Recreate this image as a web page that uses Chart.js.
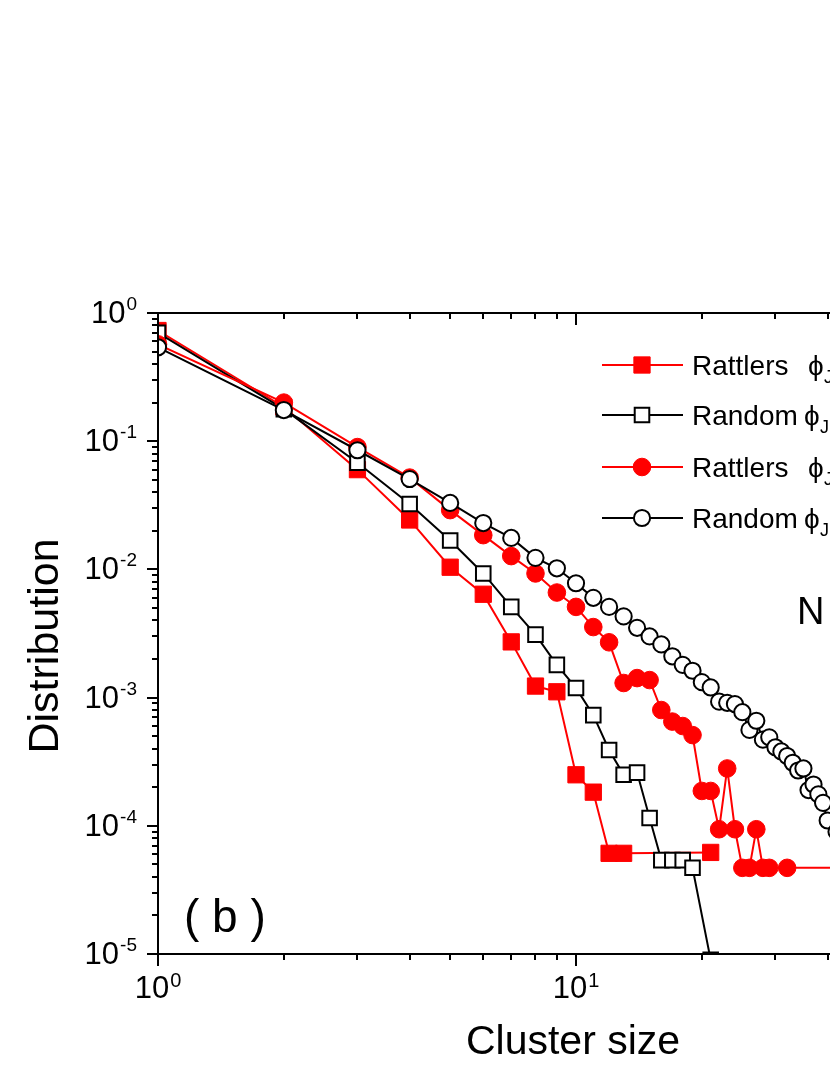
<!DOCTYPE html>
<html><head><meta charset="utf-8">
<style>
html,body{margin:0;padding:0;overflow:hidden;background:#fff;width:830px;height:1075px}
#wrap{position:absolute;left:0;top:0;width:1200px;height:1075px}
</style>
<script src="https://cdn.jsdelivr.net/npm/chart.js@4.4.0/dist/chart.umd.min.js"></script>
</head><body><div id="wrap"><canvas id="c" width="1200" height="1075" style="width:1200px;height:1075px"></canvas></div>
<script>
// ---- data ----
const xRattlersSq = [1,2,3,4,5,6,7,8,9,10,11,12,13,21];
const yRattlersSq = [0.73,0.185,0.060,0.0243,0.0104,0.0064,0.00272,0.00123,0.00111,0.00025,0.000183,6.1e-5,6.1e-5,6.2e-5];

const xRandomSq = [1,2,3,4,5,6,7,8,9,10,11,12,13,14,15,16,17,18,19,21];
const yRandomSq = [0.70,0.178,0.068,0.0324,0.0168,0.0093,0.0051,0.0031,0.0018,0.00119,0.00073,0.00039,0.00025,0.00026,0.000115,5.4e-5,5.4e-5,5.4e-5,4.7e-5,9e-6];

const xRattlersCi = [1,2,3,4,5,6,7,8,9,10,11,12,13,14,15,16,17,18,19,20,21,22,23,24,25,26,27,28,29,32,60];
const yRattlersCi = [0.57,0.20,0.090,0.052,0.029,0.0185,0.0127,0.0093,0.0066,0.0051,0.00355,0.0027,0.0013,0.00142,0.00137,0.0008,0.00065,0.0006,0.00051,0.000187,0.000187,9.4e-5,0.00028,9.4e-5,4.7e-5,4.7e-5,9.4e-5,4.7e-5,4.7e-5,4.7e-5,4.7e-5];

const xRandomCi = [1,2,3,4,5,6,7,8,9,10,11,12,13,14,15,16,17,18,19,20,21,22,23,24,25,26,27,28,29,30,31,32,33,34,35,36,37,38,39,40,42];
const yRandomCi = [0.54,0.175,0.085,0.0507,0.033,0.023,0.0176,0.0123,0.0102,0.0078,0.0060,0.0051,0.0043,0.0035,0.0030,0.0026,0.0021,0.0018,0.00162,0.00132,0.0012,0.00093,0.00091,0.00089,0.00077,0.00056,0.00066,0.00047,0.00049,0.00041,0.00038,0.00035,0.00031,0.00027,0.00028,0.00019,0.00021,0.000176,0.000151,0.00011,9e-5];

const xTickExps = [0,1,2];
const yTickExps = [0,-1,-2,-3,-4,-5];
const legendLabels = ['Rattlers', 'Random', 'Rattlers', 'Random'];
const xTitle = 'Cluster size';
const yTitle = 'Distribution';

const RED = '#ff0000', BLACK = '#000000';
const FONT = "'Liberation Sans', Arial, sans-serif";

const pts = (xs, ys) => xs.map((x, i) => ({x, y: ys[i]}));

const datasets = [
  {label: legendLabels[0], data: pts(xRattlersSq, yRattlersSq), borderColor: RED, borderWidth: 2,
   pointStyle: 'rect', pointRadius: 11.5, pointBackgroundColor: RED, pointBorderColor: RED, pointBorderWidth: 1, order: 3},
  {label: legendLabels[1], data: pts(xRandomSq, yRandomSq), borderColor: BLACK, borderWidth: 2,
   pointStyle: 'rect', pointRadius: 10.3, pointBackgroundColor: '#fff', pointBorderColor: BLACK, pointBorderWidth: 2, order: 2},
  {label: legendLabels[2], data: pts(xRattlersCi, yRattlersCi), borderColor: RED, borderWidth: 2,
   pointStyle: 'circle', pointRadius: 8.8, pointBackgroundColor: RED, pointBorderColor: RED, pointBorderWidth: 1, order: 1},
  {label: legendLabels[3], data: pts(xRandomCi, yRandomCi), borderColor: BLACK, borderWidth: 2,
   pointStyle: 'circle', pointRadius: 8.1, pointBackgroundColor: '#fff', pointBorderColor: BLACK, pointBorderWidth: 2, order: 0}
];
datasets.forEach(d => { d.tension = 0; d.fill = false; d.clip = 0; });

function drawPow(ctx, base, exp, xRef, yBase, align, bigSize, smallSize, supRise) {
  ctx.font = bigSize + 'px ' + FONT;
  const wb = ctx.measureText(base).width;
  ctx.font = smallSize + 'px ' + FONT;
  const ws = ctx.measureText(exp).width;
  let left;
  if (align === 'right') left = xRef - wb - ws - 1;
  else left = xRef - (wb + ws + 1) / 2;
  ctx.textAlign = 'left';
  ctx.textBaseline = 'alphabetic';
  ctx.font = bigSize + 'px ' + FONT;
  ctx.fillText(base, left, yBase);
  ctx.font = smallSize + 'px ' + FONT;
  ctx.fillText(exp, left + wb + 1, yBase - supRise);
}

const decor = {
  id: 'decor',
  afterDraw(chart) {
    const {ctx, chartArea: a, scales: {x, y}} = chart;
    ctx.save();
    ctx.strokeStyle = BLACK; ctx.fillStyle = BLACK; ctx.lineWidth = 2;
    ctx.lineCap = 'butt';
    ctx.strokeRect(a.left, a.top, a.right - a.left, a.bottom - a.top);
    // x ticks: outward at bottom, inward at top
    for (let d = 0; d < 2; d++) {
      for (let m = 1; m <= 9; m++) {
        const px = Math.round(x.getPixelForValue(m * Math.pow(10, d)));
        const L = m === 1 ? 12 : 6;
        ctx.beginPath();
        ctx.moveTo(px, a.bottom); ctx.lineTo(px, a.bottom + L);
        ctx.moveTo(px, a.top); ctx.lineTo(px, a.top + L);
        ctx.stroke();
      }
    }
    // y ticks: outward at left, inward at right
    for (let d = -5; d < 0; d++) {
      for (let m = 1; m <= 9; m++) {
        const py = Math.round(y.getPixelForValue(m * Math.pow(10, d)));
        const L = m === 1 ? 11 : 6;
        ctx.beginPath();
        ctx.moveTo(a.left, py); ctx.lineTo(a.left - L, py);
        ctx.moveTo(a.right, py); ctx.lineTo(a.right - L, py);
        ctx.stroke();
      }
    }
    [1].forEach(v => {
      const py = Math.round(y.getPixelForValue(v));
      ctx.beginPath(); ctx.moveTo(a.left, py); ctx.lineTo(a.left - 11, py); ctx.stroke();
    });
    // tick labels
    xTickExps.forEach(e => {
      const px = x.getPixelForValue(Math.pow(10, e));
      drawPow(ctx, '10', String(e), px, 998, 'center', 31, 20, 11);
    });
    yTickExps.forEach(e => {
      const py = y.getPixelForValue(Math.pow(10, e));
      drawPow(ctx, '10', String(e), 137, py + 10, 'right', 31, 19, 13);
    });
    // axis titles
    ctx.font = '41px ' + FONT;
    ctx.textAlign = 'center'; ctx.textBaseline = 'alphabetic';
    ctx.fillText(xTitle, (a.left + a.right) / 2 - 3, 1054);
    ctx.save();
    ctx.translate(58, 646);
    ctx.rotate(-Math.PI / 2);
    ctx.font = '43px ' + FONT;
    ctx.fillText(yTitle, 0, 0);
    ctx.restore();
    // panel label
    ctx.font = '46px ' + FONT;
    ctx.textAlign = 'left';
    ctx.fillText('( b )', 184, 932);
    // N text
    ctx.font = '38px ' + FONT;
    ctx.fillText('N', 797, 624);
    // legend
    const legY = [365, 415, 467, 518];
    const phiX = [808, 804, 808, 804];
    chart.data.datasets.forEach((ds, i) => {
      const cy = legY[i];
      ctx.strokeStyle = ds.borderColor; ctx.lineWidth = 2;
      ctx.beginPath(); ctx.moveTo(602, cy); ctx.lineTo(683, cy); ctx.stroke();
      ctx.fillStyle = ds.pointBackgroundColor; ctx.strokeStyle = ds.pointBorderColor;
      ctx.lineWidth = ds.pointBorderWidth;
      ctx.beginPath();
      if (ds.pointStyle === 'rect') {
        const s = Math.SQRT1_2 * ds.pointRadius;
        ctx.rect(642 - s, cy - s, 2 * s, 2 * s);
      } else {
        ctx.arc(642, cy, ds.pointRadius, 0, Math.PI * 2);
      }
      ctx.fill(); ctx.stroke();
      ctx.fillStyle = BLACK;
      ctx.font = '28px ' + FONT;
      ctx.textAlign = 'left'; ctx.textBaseline = 'alphabetic';
      ctx.fillText(ds.label, 692, cy + 10);
      ctx.fillText('\u03D5', phiX[i], cy + 10);
      ctx.font = '18px ' + FONT;
      ctx.fillText('J', phiX[i] + 16, cy + 18);
    });
    ctx.restore();
  }
};

new Chart(document.getElementById('c'), {
  type: 'line',
  data: {datasets},
  options: {
    responsive: false,
    animation: false,
    events: [],
    layout: {padding: {left: 158, right: 206, top: 313, bottom: 121}},
    plugins: {legend: {display: false}, tooltip: {enabled: false}},
    scales: {
      x: {type: 'logarithmic', min: 1, max: 100, display: false},
      y: {type: 'logarithmic', min: 1e-5, max: 1, display: false}
    }
  },
  plugins: [decor]
});
</script>
</body></html>
